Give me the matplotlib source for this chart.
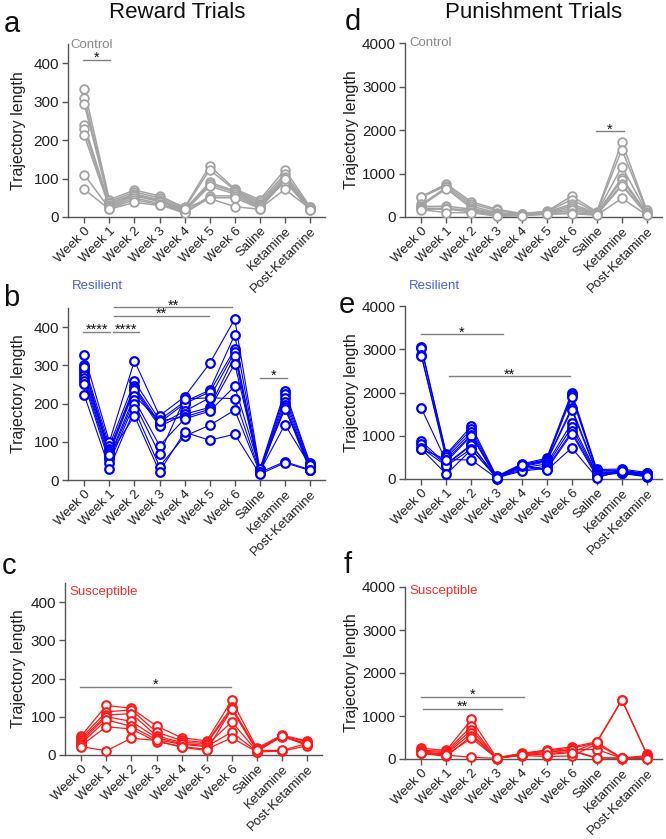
import matplotlib
matplotlib.use("Agg")
import matplotlib.pyplot as plt
import numpy as np

plt.rcParams['font.family'] = ['Liberation Sans', 'DejaVu Sans']

# --- Data (one row per mouse) ---
timepoints = ['Week 0', 'Week 1', 'Week 2', 'Week 3', 'Week 4', 'Week 5',
              'Week 6', 'Saline', 'Ketamine', 'Post-Ketamine']

control_reward = [
    [332, 45, 70, 55, 25, 133, 73, 45, 123, 27],
    [309, 40, 65, 50, 22, 123, 70, 40, 112, 25],
    [294, 36, 60, 45, 20, 90, 68, 35, 105, 22],
    [240, 32, 58, 42, 18, 85, 65, 30, 100, 20],
    [228, 28, 55, 40, 15, 80, 60, 28, 95, 18],
    [212, 25, 50, 35, 12, 55, 55, 25, 92, 20],
    [110, 22, 45, 32, 10, 50, 50, 22, 72, 22],
    [72, 20, 38, 30, 22, 48, 27, 20, 100, 18],
]
control_punish = [
    [470, 760, 350, 180, 80, 130, 480, 120, 1720, 150],
    [450, 720, 300, 150, 70, 120, 400, 100, 1550, 120],
    [290, 680, 250, 100, 60, 110, 300, 90, 1160, 100],
    [260, 650, 200, 80, 55, 100, 250, 80, 900, 80],
    [240, 250, 180, 60, 50, 90, 200, 70, 850, 70],
    [200, 200, 150, 40, 45, 80, 150, 60, 750, 60],
    [180, 180, 120, 30, 40, 70, 100, 50, 720, 50],
    [170, 100, 100, 20, 30, 60, 80, 40, 430, 40],
]
resilient_reward = [
    [326, 100, 312, 168, 218, 305, 421, 28, 233, 45],
    [300, 90, 258, 157, 205, 235, 380, 25, 225, 40],
    [290, 80, 245, 150, 200, 230, 343, 22, 215, 35],
    [283, 75, 240, 145, 180, 215, 335, 20, 205, 30],
    [275, 70, 235, 140, 172, 190, 325, 18, 195, 28],
    [268, 60, 220, 155, 165, 185, 304, 25, 190, 25],
    [260, 55, 210, 90, 160, 180, 245, 30, 185, 43],
    [252, 45, 200, 68, 212, 215, 213, 22, 145, 38],
    [222, 30, 185, 35, 115, 143, 183, 20, 48, 27],
    [295, 65, 168, 22, 125, 104, 120, 15, 45, 25],
]
resilient_punish = [
    [3060, 580, 1220, 60, 350, 480, 2000, 220, 230, 150],
    [3020, 550, 1150, 50, 330, 450, 1950, 200, 200, 130],
    [2870, 500, 1080, 40, 320, 430, 1900, 180, 180, 120],
    [2850, 450, 1020, 30, 300, 420, 1650, 150, 160, 100],
    [1640, 400, 1000, 20, 280, 400, 1600, 130, 150, 80],
    [870, 350, 800, 10, 250, 350, 1300, 120, 140, 60],
    [800, 330, 780, 50, 200, 300, 1200, 100, 130, 50],
    [720, 300, 700, 30, 180, 250, 1100, 80, 200, 110],
    [700, 110, 680, 40, 300, 220, 1050, 50, 170, 90],
    [690, 450, 440, 20, 320, 200, 720, 30, 190, 70],
]
susceptible_reward = [
    [50, 130, 122, 76, 45, 37, 143, 18, 52, 37],
    [45, 113, 118, 60, 38, 33, 125, 15, 50, 35],
    [40, 105, 108, 50, 33, 30, 120, 12, 49, 30],
    [35, 100, 88, 45, 30, 25, 87, 10, 48, 28],
    [30, 92, 75, 40, 28, 22, 60, 9, 50, 25],
    [25, 74, 68, 35, 22, 15, 45, 8, 10, 24],
    [22, 11, 44, 38, 20, 12, 120, 12, 12, 30],
]
susceptible_punish = [
    [250, 200, 920, 30, 130, 210, 280, 400, 1380, 110],
    [200, 180, 760, 20, 120, 190, 250, 380, 1370, 100],
    [180, 150, 680, 15, 100, 150, 220, 220, 20, 80],
    [150, 120, 600, 10, 90, 120, 180, 20, 30, 50],
    [130, 60, 540, 25, 80, 60, 70, 350, 10, 30],
    [160, 100, 480, 20, 110, 180, 200, 30, 15, 20],
    [140, 90, 40, 15, 100, 100, 150, 390, 25, 10],
]

# significance bars: (x start, x end, height, stars)
sig_a = [(-0.04, 1.04, 408, '*')]
sig_d = [(6.96, 8.08, 1970, '*')]
sig_b = [(-0.04, 1.04, 387, '****'), (1.16, 2.2, 387, '****'),
         (1.2, 4.98, 429, '**'), (1.2, 5.9, 452, '**'), (7.0, 8.1, 268, '*')]
sig_e = [(0.0, 3.24, 3345, '*'), (1.1, 5.95, 2370, '**')]
sig_c = [(-0.04, 5.96, 178, '*')]
sig_f = [(0.0, 4.1, 1450, '*'), (0.07, 3.2, 1170, '**')]

# --- Layout helpers (pixel coords of the 666x839 figure) ---
W, H = 666, 839
fig = plt.figure(figsize=(W / 100, H / 100), dpi=100)

AX_COL = '#555555'
XMIN, XMAX = -0.65, 9.6
AX_W = 257


def make_axes(left, top, bottom):
    return fig.add_axes([left / W, 1 - bottom / H, AX_W / W, (bottom - top) / H])


def draw_panel(ax, data, color, lw, mew, ymax, yticks, sigs, ylabel_x):
    x = np.arange(len(timepoints))
    for row in data:
        ax.plot(x, row, color=color, lw=lw, zorder=2, clip_on=False)
    for row in data:
        ax.plot(x, row, 'o', ls='none', ms=6.2, mfc='white', mec=color,
                mew=mew, zorder=3, clip_on=False)
    ax.set_xlim(XMIN, XMAX)
    ax.set_ylim(0, ymax)
    ax.set_yticks(yticks)
    ax.set_xticks(x)
    ax.set_xticklabels(timepoints, rotation=45, ha='right', va='top',
                       rotation_mode='anchor')
    for s in ['top', 'right']:
        ax.spines[s].set_visible(False)
    for s in ['left', 'bottom']:
        ax.spines[s].set_color(AX_COL)
        ax.spines[s].set_linewidth(1.0)
    ax.tick_params(colors=AX_COL, labelcolor='#222222', length=4, width=1.0)
    ax.tick_params(axis='x', labelsize=9.5, pad=1.5)
    ax.tick_params(axis='y', labelsize=11, pad=2.5)
    ax.set_ylabel('Trajectory length', fontsize=11.5, color='#222222')
    ax.yaxis.set_label_coords(ylabel_x, 0.5)
    for x0, x1, yb, stars in sigs:
        ax.plot([x0, x1], [yb, yb], color='#808080', lw=1.0, clip_on=False)
        ax.annotate(stars, xy=((x0 + x1) / 2, yb), xytext=(0, -1.5),
                    textcoords='offset points', ha='center', va='baseline',
                    fontsize=10.5, color='#111111', annotation_clip=False)


GRAY = '#a3a3a3'
BLUE = '#0000ff'
RED = '#ff1a1a'

ax_a = make_axes(68, 44, 217)
draw_panel(ax_a, control_reward, GRAY, 1.1, 1.3, 450, [0, 100, 200, 300, 400],
           sig_a, (26 - 68) / AX_W)
ax_b = make_axes(68, 308, 480)
draw_panel(ax_b, resilient_reward, BLUE, 0.8, 1.6, 450, [0, 100, 200, 300, 400],
           sig_b, (26 - 68) / AX_W)
ax_c = make_axes(65, 583, 755)
draw_panel(ax_c, susceptible_reward, RED, 0.9, 1.5, 450, [0, 100, 200, 300, 400],
           sig_c, (26 - 65) / AX_W)
ax_d = make_axes(405, 43, 217)
draw_panel(ax_d, control_punish, GRAY, 1.1, 1.3, 4000, [0, 1000, 2000, 3000, 4000],
           sig_d, (359 - 405) / AX_W)
ax_e = make_axes(405, 306, 479)
draw_panel(ax_e, resilient_punish, BLUE, 0.8, 1.6, 4000, [0, 1000, 2000, 3000, 4000],
           sig_e, (359 - 405) / AX_W)
ax_f = make_axes(405, 587, 759)
draw_panel(ax_f, susceptible_punish, RED, 0.9, 1.5, 4000, [0, 1000, 2000, 3000, 4000],
           sig_f, (359 - 405) / AX_W)


def ftext(x, y, s, **kw):
    fig.text(x / W, 1 - y / H, s, **kw)


# column titles
ftext(177, 12, 'Reward Trials', fontsize=16, ha='center', va='center', color='#111111')
ftext(534, 12, 'Punishment Trials', fontsize=16, ha='center', va='center', color='#111111')

# panel letters
for lx, ly, letter in [(4, 24, 'a'), (345, 22, 'd'), (3, 298, 'b'),
                       (339, 305, 'e'), (2, 566, 'c'), (344, 565, 'f')]:
    ftext(lx, ly, letter, fontsize=21, ha='left', va='center', color='#111111')

# group labels
for gx, gy, s, c in [(70, 45, 'Control', '#8a8a8a'), (409, 43, 'Control', '#8a8a8a'),
                     (72, 286, 'Resilient', '#4a62d8'), (409, 286, 'Resilient', '#4a62d8'),
                     (69, 592, 'Susceptible', '#ff2a2a'), (409, 591, 'Susceptible', '#ff2a2a')]:
    ftext(gx, gy, s, fontsize=9.5, ha='left', va='center', color=c)

fig.savefig('out.png', dpi=100)
